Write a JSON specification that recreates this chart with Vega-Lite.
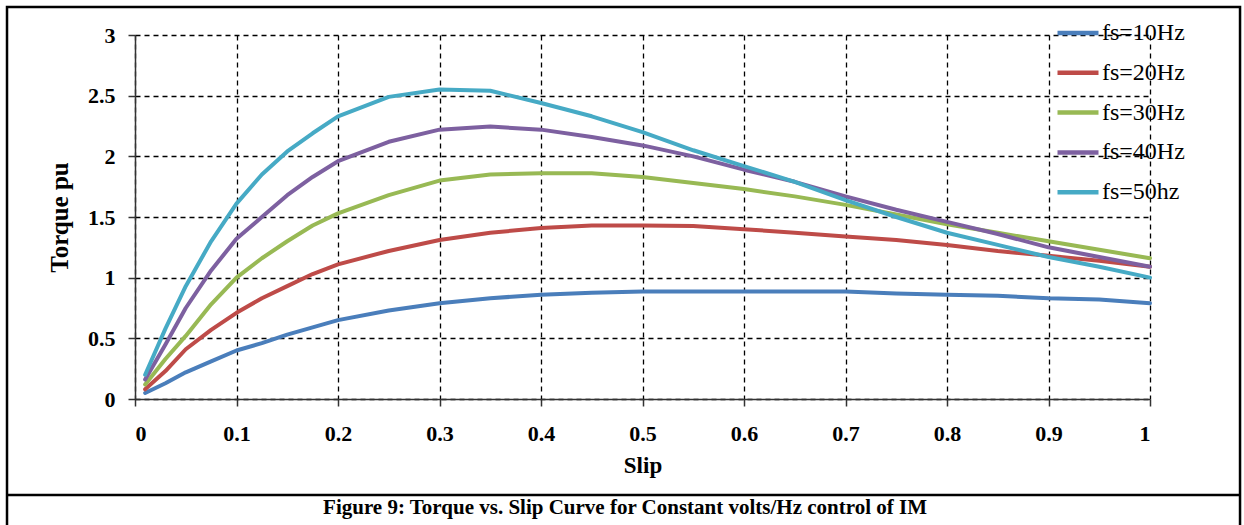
{
  "$schema": "https://vega.github.io/schema/vega-lite/v6.json",
  "autosize": "none",
  "width": 1015,
  "height": 364,
  "padding": {"left": 135, "top": 35, "right": 94, "bottom": 126},
  "background": "white",
  "layer": [
    {
      "data": {"values": [{}]},
      "mark": {"type": "rect", "filled": false, "stroke": "black", "strokeWidth": 2.5, "clip": false},
      "encoding": {
        "x": {"datum": -0.1261, "type": "quantitative"},
        "x2": {"datum": 1.0887},
        "y": {"datum": 3.2308, "type": "quantitative"},
        "y2": {"datum": -1.2}
      }
    },
    {
      "data": {"values": [{}]},
      "mark": {"type": "rule", "stroke": "black", "strokeWidth": 2.5, "clip": false},
      "encoding": {
        "x": {"datum": -0.1261, "type": "quantitative"},
        "x2": {"datum": 1.0887},
        "y": {"datum": -0.791, "type": "quantitative"}
      }
    },
    {
      "data": {"values": [{"caption": "Figure 9: Torque vs. Slip Curve for Constant volts/Hz control of IM"}]},
      "mark": {
        "type": "text",
        "clip": false,
        "font": "Liberation Serif",
        "fontSize": 21,
        "fontWeight": "bold",
        "color": "black",
        "align": "center",
        "baseline": "middle"
      },
      "encoding": {
        "x": {"datum": 0.4828, "type": "quantitative"},
        "y": {"datum": -0.9, "type": "quantitative"},
        "text": {"field": "caption"}
      }
    },
    {
      "data": {
        "values": [
          {"s": 0.01, "T": 0.05, "f": "fs=10Hz"},
          {"s": 0.03, "T": 0.13, "f": "fs=10Hz"},
          {"s": 0.05, "T": 0.22, "f": "fs=10Hz"},
          {"s": 0.075, "T": 0.31, "f": "fs=10Hz"},
          {"s": 0.1, "T": 0.4, "f": "fs=10Hz"},
          {"s": 0.125, "T": 0.46, "f": "fs=10Hz"},
          {"s": 0.15, "T": 0.53, "f": "fs=10Hz"},
          {"s": 0.175, "T": 0.59, "f": "fs=10Hz"},
          {"s": 0.2, "T": 0.65, "f": "fs=10Hz"},
          {"s": 0.25, "T": 0.73, "f": "fs=10Hz"},
          {"s": 0.3, "T": 0.79, "f": "fs=10Hz"},
          {"s": 0.35, "T": 0.83, "f": "fs=10Hz"},
          {"s": 0.4, "T": 0.86, "f": "fs=10Hz"},
          {"s": 0.45, "T": 0.875, "f": "fs=10Hz"},
          {"s": 0.5, "T": 0.885, "f": "fs=10Hz"},
          {"s": 0.55, "T": 0.885, "f": "fs=10Hz"},
          {"s": 0.6, "T": 0.885, "f": "fs=10Hz"},
          {"s": 0.65, "T": 0.885, "f": "fs=10Hz"},
          {"s": 0.7, "T": 0.885, "f": "fs=10Hz"},
          {"s": 0.75, "T": 0.87, "f": "fs=10Hz"},
          {"s": 0.8, "T": 0.86, "f": "fs=10Hz"},
          {"s": 0.85, "T": 0.85, "f": "fs=10Hz"},
          {"s": 0.9, "T": 0.83, "f": "fs=10Hz"},
          {"s": 0.95, "T": 0.82, "f": "fs=10Hz"},
          {"s": 1.0, "T": 0.79, "f": "fs=10Hz"},

          {"s": 0.01, "T": 0.08, "f": "fs=20Hz"},
          {"s": 0.03, "T": 0.23, "f": "fs=20Hz"},
          {"s": 0.05, "T": 0.41, "f": "fs=20Hz"},
          {"s": 0.075, "T": 0.57, "f": "fs=20Hz"},
          {"s": 0.1, "T": 0.71, "f": "fs=20Hz"},
          {"s": 0.125, "T": 0.83, "f": "fs=20Hz"},
          {"s": 0.15, "T": 0.93, "f": "fs=20Hz"},
          {"s": 0.175, "T": 1.03, "f": "fs=20Hz"},
          {"s": 0.2, "T": 1.11, "f": "fs=20Hz"},
          {"s": 0.25, "T": 1.22, "f": "fs=20Hz"},
          {"s": 0.3, "T": 1.31, "f": "fs=20Hz"},
          {"s": 0.35, "T": 1.37, "f": "fs=20Hz"},
          {"s": 0.4, "T": 1.41, "f": "fs=20Hz"},
          {"s": 0.45, "T": 1.43, "f": "fs=20Hz"},
          {"s": 0.5, "T": 1.43, "f": "fs=20Hz"},
          {"s": 0.55, "T": 1.425, "f": "fs=20Hz"},
          {"s": 0.6, "T": 1.4, "f": "fs=20Hz"},
          {"s": 0.65, "T": 1.37, "f": "fs=20Hz"},
          {"s": 0.7, "T": 1.34, "f": "fs=20Hz"},
          {"s": 0.75, "T": 1.31, "f": "fs=20Hz"},
          {"s": 0.8, "T": 1.27, "f": "fs=20Hz"},
          {"s": 0.85, "T": 1.22, "f": "fs=20Hz"},
          {"s": 0.9, "T": 1.18, "f": "fs=20Hz"},
          {"s": 0.95, "T": 1.14, "f": "fs=20Hz"},
          {"s": 1.0, "T": 1.09, "f": "fs=20Hz"},

          {"s": 0.01, "T": 0.12, "f": "fs=30Hz"},
          {"s": 0.03, "T": 0.33, "f": "fs=30Hz"},
          {"s": 0.05, "T": 0.52, "f": "fs=30Hz"},
          {"s": 0.075, "T": 0.78, "f": "fs=30Hz"},
          {"s": 0.1, "T": 1.0, "f": "fs=30Hz"},
          {"s": 0.125, "T": 1.16, "f": "fs=30Hz"},
          {"s": 0.15, "T": 1.3, "f": "fs=30Hz"},
          {"s": 0.175, "T": 1.43, "f": "fs=30Hz"},
          {"s": 0.2, "T": 1.53, "f": "fs=30Hz"},
          {"s": 0.25, "T": 1.68, "f": "fs=30Hz"},
          {"s": 0.3, "T": 1.8, "f": "fs=30Hz"},
          {"s": 0.35, "T": 1.85, "f": "fs=30Hz"},
          {"s": 0.4, "T": 1.86, "f": "fs=30Hz"},
          {"s": 0.45, "T": 1.86, "f": "fs=30Hz"},
          {"s": 0.5, "T": 1.83, "f": "fs=30Hz"},
          {"s": 0.55, "T": 1.78, "f": "fs=30Hz"},
          {"s": 0.6, "T": 1.73, "f": "fs=30Hz"},
          {"s": 0.65, "T": 1.67, "f": "fs=30Hz"},
          {"s": 0.7, "T": 1.6, "f": "fs=30Hz"},
          {"s": 0.75, "T": 1.52, "f": "fs=30Hz"},
          {"s": 0.8, "T": 1.44, "f": "fs=30Hz"},
          {"s": 0.85, "T": 1.37, "f": "fs=30Hz"},
          {"s": 0.9, "T": 1.3, "f": "fs=30Hz"},
          {"s": 0.95, "T": 1.23, "f": "fs=30Hz"},
          {"s": 1.0, "T": 1.16, "f": "fs=30Hz"},

          {"s": 0.01, "T": 0.16, "f": "fs=40Hz"},
          {"s": 0.03, "T": 0.45, "f": "fs=40Hz"},
          {"s": 0.05, "T": 0.75, "f": "fs=40Hz"},
          {"s": 0.075, "T": 1.06, "f": "fs=40Hz"},
          {"s": 0.1, "T": 1.32, "f": "fs=40Hz"},
          {"s": 0.125, "T": 1.5, "f": "fs=40Hz"},
          {"s": 0.15, "T": 1.68, "f": "fs=40Hz"},
          {"s": 0.175, "T": 1.83, "f": "fs=40Hz"},
          {"s": 0.2, "T": 1.96, "f": "fs=40Hz"},
          {"s": 0.25, "T": 2.12, "f": "fs=40Hz"},
          {"s": 0.3, "T": 2.22, "f": "fs=40Hz"},
          {"s": 0.35, "T": 2.245, "f": "fs=40Hz"},
          {"s": 0.4, "T": 2.22, "f": "fs=40Hz"},
          {"s": 0.45, "T": 2.16, "f": "fs=40Hz"},
          {"s": 0.5, "T": 2.09, "f": "fs=40Hz"},
          {"s": 0.55, "T": 2.0, "f": "fs=40Hz"},
          {"s": 0.6, "T": 1.89, "f": "fs=40Hz"},
          {"s": 0.65, "T": 1.79, "f": "fs=40Hz"},
          {"s": 0.7, "T": 1.67, "f": "fs=40Hz"},
          {"s": 0.75, "T": 1.56, "f": "fs=40Hz"},
          {"s": 0.8, "T": 1.46, "f": "fs=40Hz"},
          {"s": 0.85, "T": 1.36, "f": "fs=40Hz"},
          {"s": 0.9, "T": 1.25, "f": "fs=40Hz"},
          {"s": 0.95, "T": 1.17, "f": "fs=40Hz"},
          {"s": 1.0, "T": 1.09, "f": "fs=40Hz"},

          {"s": 0.01, "T": 0.2, "f": "fs=50hz"},
          {"s": 0.03, "T": 0.58, "f": "fs=50hz"},
          {"s": 0.05, "T": 0.93, "f": "fs=50hz"},
          {"s": 0.075, "T": 1.3, "f": "fs=50hz"},
          {"s": 0.1, "T": 1.61, "f": "fs=50hz"},
          {"s": 0.125, "T": 1.85, "f": "fs=50hz"},
          {"s": 0.15, "T": 2.04, "f": "fs=50hz"},
          {"s": 0.175, "T": 2.19, "f": "fs=50hz"},
          {"s": 0.2, "T": 2.33, "f": "fs=50hz"},
          {"s": 0.25, "T": 2.49, "f": "fs=50hz"},
          {"s": 0.3, "T": 2.55, "f": "fs=50hz"},
          {"s": 0.35, "T": 2.54, "f": "fs=50hz"},
          {"s": 0.4, "T": 2.44, "f": "fs=50hz"},
          {"s": 0.45, "T": 2.33, "f": "fs=50hz"},
          {"s": 0.5, "T": 2.2, "f": "fs=50hz"},
          {"s": 0.55, "T": 2.05, "f": "fs=50hz"},
          {"s": 0.6, "T": 1.92, "f": "fs=50hz"},
          {"s": 0.65, "T": 1.79, "f": "fs=50hz"},
          {"s": 0.7, "T": 1.64, "f": "fs=50hz"},
          {"s": 0.75, "T": 1.5, "f": "fs=50hz"},
          {"s": 0.8, "T": 1.37, "f": "fs=50hz"},
          {"s": 0.85, "T": 1.27, "f": "fs=50hz"},
          {"s": 0.9, "T": 1.17, "f": "fs=50hz"},
          {"s": 0.95, "T": 1.09, "f": "fs=50hz"},
          {"s": 1.0, "T": 1.0, "f": "fs=50hz"}
        ]
      },
      "mark": {"type": "line", "strokeWidth": 4, "strokeJoin": "round", "strokeCap": "round"},
      "encoding": {
        "x": {
          "field": "s",
          "type": "quantitative",
          "scale": {"domain": [0, 1], "nice": false},
          "axis": {
            "title": "Slip",
            "values": [0, 0.1, 0.2, 0.3, 0.4, 0.5, 0.6, 0.7, 0.8, 0.9, 1],
            "format": "~g",
            "labelPadding": 17,
            "titlePadding": 10
          }
        },
        "y": {
          "field": "T",
          "type": "quantitative",
          "scale": {"domain": [0, 3], "nice": false},
          "axis": {
            "title": "Torque pu",
            "values": [0, 0.5, 1, 1.5, 2, 2.5, 3],
            "format": "~g",
            "labelPadding": 13,
            "titlePadding": 15,
            "titleFontSize": 25
          }
        },
        "color": {
          "field": "f",
          "type": "nominal",
          "scale": {
            "domain": ["fs=10Hz", "fs=20Hz", "fs=30Hz", "fs=40Hz", "fs=50hz"],
            "range": ["#4a7ebb", "#be4b48", "#98b954", "#7d60a0", "#46aac5"]
          },
          "legend": {
            "title": null,
            "orient": "none",
            "legendX": 920,
            "legendY": -25,
            "symbolType": "stroke",
            "symbolSize": 1681,
            "symbolStrokeWidth": 4.5,
            "labelFont": "Liberation Serif",
            "labelFontSize": 24,
            "labelColor": "black",
            "labelOffset": 1,
            "rowPadding": 4.8,
            "padding": 0
          }
        }
      }
    }
  ],
  "config": {
    "view": {"stroke": null},
    "font": "Liberation Serif",
    "axis": {
      "domainColor": "#333333",
      "domainWidth": 1.5,
      "tickColor": "#333333",
      "tickWidth": 1.5,
      "tickSize": 7,
      "grid": true,
      "gridColor": "#000000",
      "gridDash": [5, 4],
      "gridWidth": 1.3,
      "gridOpacity": 1,
      "labelFont": "Liberation Serif",
      "labelFontSize": 22,
      "labelFontWeight": "bold",
      "labelColor": "black",
      "titleFont": "Liberation Serif",
      "titleFontSize": 23,
      "titleFontWeight": "bold",
      "titleColor": "black"
    }
  }
}
